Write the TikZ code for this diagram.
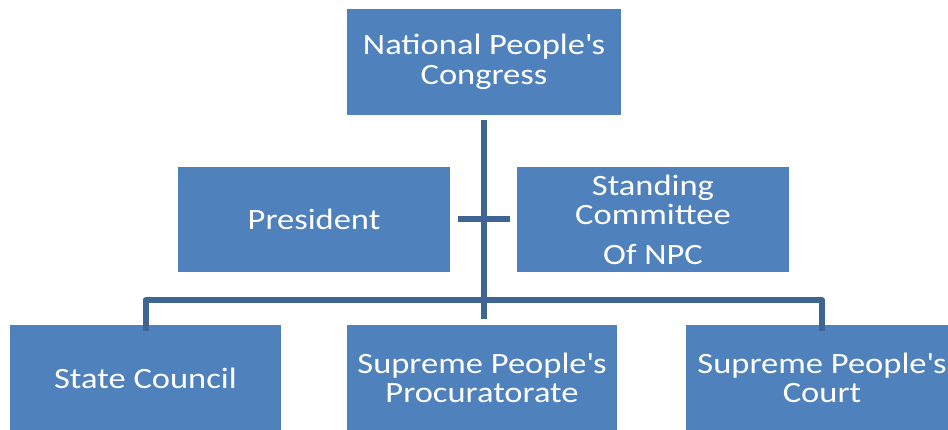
\documentclass[tikz,border=0pt]{standalone}
\usepackage{fontspec}
\setmainfont[FakeStretch=1.17]{Carlito}
\definecolor{boxblue}{HTML}{4F81BD}
\definecolor{linkblue}{HTML}{3F6693}
\newcommand{\apos}{\textquotesingle}
\begin{document}
\begin{tikzpicture}[x=1pt,y=-1pt,
  orgbox/.style={fill=boxblue, draw=none, text=white, align=center,
    inner sep=0pt, minimum width=272pt, minimum height=106pt,
    font=\fontsize{29.5}{29.5}\selectfont},
  link/.style={draw=linkblue, line width=6pt}]
\useasboundingbox (0,0) rectangle (948,430);
\clip (0,0) rectangle (948,430);
% boxes
\node[orgbox, minimum width=274pt] (npc) at (484,62) {National People\apos s\\Congress};
\node[orgbox, minimum height=105pt] (pres) at (314,219.5) {President};
\node[orgbox, minimum height=105pt] (stand) at (653,219.5) {Standing\\Committee\\[10pt]Of NPC};
\node[orgbox, minimum width=271pt] (sc) at (145.5,378) {State Council};
\node[orgbox, minimum width=270pt] (spp) at (482,378) {Supreme People\apos s\\Procuratorate};
\node[orgbox] (spc) at (822,378) {Supreme People\apos s\\Court};
% connectors
\coordinate (bus) at (484,300);
\draw[link, shorten <=5pt] (npc.south) -- (npc.south |- bus);
\draw[link, shorten <=8pt, shorten >=7pt] (pres.east) -- (stand.west);
\draw[link, line join=round] ([yshift=-6pt]sc.north) -- (sc.north |- bus) -- (spc.north |- bus) -- ([yshift=-6pt]spc.north);
\draw[link, shorten >=6pt] (npc.south |- bus) -- (npc.south |- spp.north);
\end{tikzpicture}
\end{document}
